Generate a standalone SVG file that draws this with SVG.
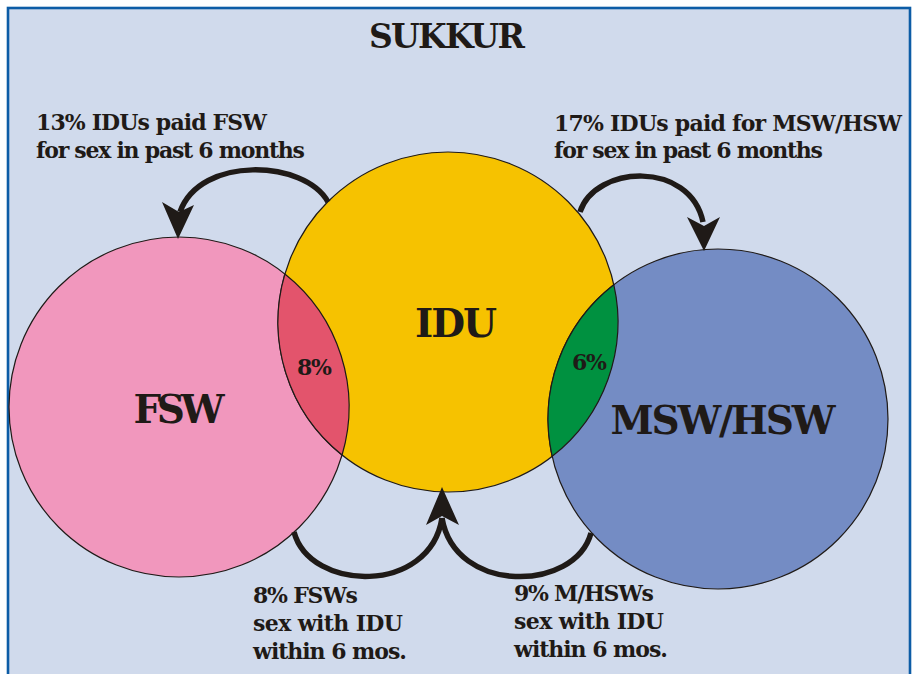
<svg xmlns="http://www.w3.org/2000/svg" width="914" height="674" viewBox="0 0 914 674">
<style>
text{font-family:"DejaVu Serif","Liberation Serif",serif;font-weight:bold;fill:#1f1a17}
.circ{stroke:#1f1a17;stroke-width:1.2}
.conn{fill:none;stroke:#1f1a17;stroke-width:5.5}
.head{fill:#1f1a17}
.lbl{font-size:22px}
.big{font-size:39px}
.pct{font-size:22px}
</style>
<rect x="0" y="0" width="914" height="674" fill="#ffffff"/>
<rect x="8" y="8" width="902" height="690" fill="#d0daec" stroke="#0c5ca6" stroke-width="2.6"/>
<text id="title" x="447" y="48" font-size="33" text-anchor="middle" textLength="156">SUKKUR</text>
<g id="FSW">
<circle class="circ" cx="179" cy="407" r="170" fill="#f197bd"/>
<text class="big" x="179" y="423" text-anchor="middle" textLength="91">FSW</text>
</g>
<g id="IDU">
<circle class="circ" cx="448" cy="322" r="170" fill="#f6c200"/>
<text class="big" x="456" y="337" text-anchor="middle" textLength="82">IDU</text>
</g>
<g id="MSW_HSW">
<circle class="circ" cx="718" cy="419" r="170" fill="#748cc4"/>
<text class="big" x="723" y="434" text-anchor="middle" textLength="225">MSW/HSW</text>
</g>
<g id="overlap_FSW_IDU">
<path class="circ" d="M284.9 274 A170 170 0 0 1 342.1 455 A170 170 0 0 1 284.9 274 Z" fill="#e3546c"/>
<text class="pct" x="314.5" y="375" text-anchor="middle" textLength="35">8%</text>
</g>
<g id="overlap_IDU_MSW">
<path class="circ" d="M613.8 284.7 A170 170 0 0 1 552.2 456.3 A170 170 0 0 1 613.8 284.7 Z" fill="#009140"/>
<text class="pct" x="589.5" y="370" text-anchor="middle" textLength="35">6%</text>
</g>
<g id="connectors">
<path class="conn" d="M328 202 C305 160 200 155 180 212"/>
<polygon class="head" points="178,239 162,202 179,212 194,205"/>
<path class="conn" d="M580 212 C595 165 690 160 703 222"/>
<polygon class="head" points="704,251 687,217 704,226 720,217"/>
<path class="conn" d="M294 532 C310 592 430 595 442 518"/>
<path class="conn" d="M591 533 C575 592 455 595 442 518"/>
<polygon class="head" points="442,487 426,525 442,516 459,525"/>
</g>
<g id="labels">
<text class="lbl" x="36" y="130" textLength="231">13% IDUs paid FSW</text>
<text class="lbl" x="36" y="158" textLength="269">for sex in past 6 months</text>
<text class="lbl" x="554" y="131" textLength="348">17% IDUs paid for MSW/HSW</text>
<text class="lbl" x="554" y="158" textLength="269">for sex in past 6 months</text>
<text class="lbl" x="253" y="603" textLength="105">8% FSWs</text>
<text class="lbl" x="253" y="631" textLength="150">sex with IDU</text>
<text class="lbl" x="253" y="659" textLength="154">within 6 mos.</text>
<text class="lbl" x="514" y="601" textLength="140">9% M/HSWs</text>
<text class="lbl" x="514" y="629" textLength="150">sex with IDU</text>
<text class="lbl" x="514" y="657" textLength="154">within 6 mos.</text>
</g>
</svg>
